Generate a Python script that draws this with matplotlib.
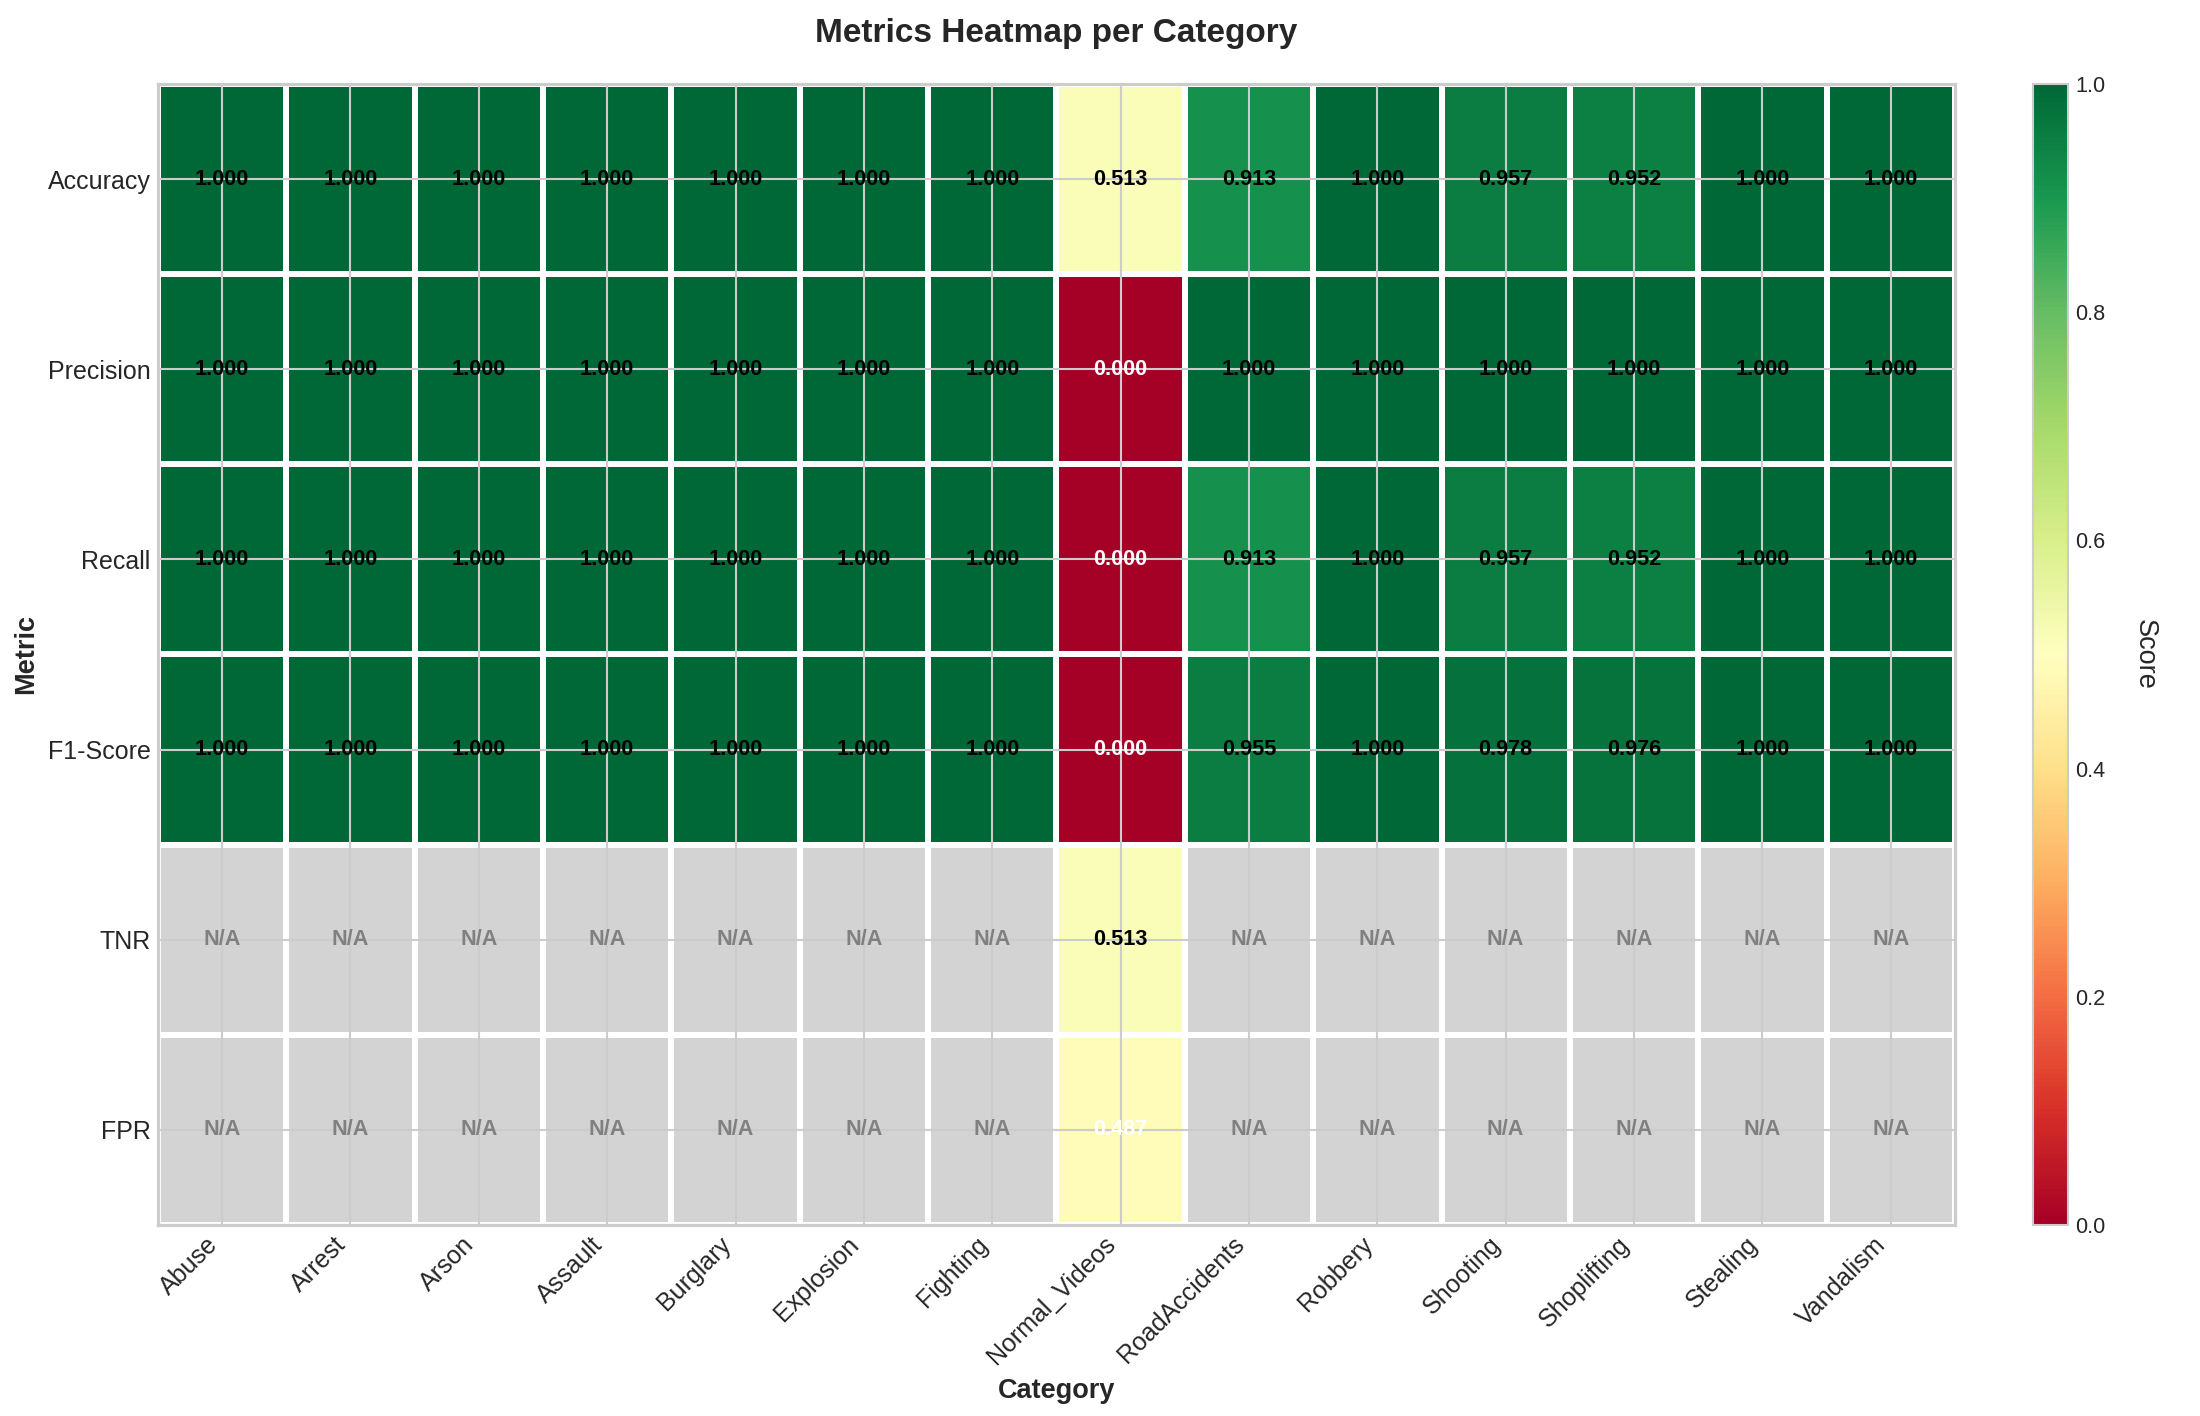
import matplotlib
matplotlib.use('Agg')
import matplotlib.pyplot as plt
import numpy as np

plt.style.use('seaborn-v0_8-whitegrid')
plt.rcParams['font.family'] = ['Liberation Sans', 'DejaVu Sans']

categories = ['Abuse', 'Arrest', 'Arson', 'Assault', 'Burglary', 'Explosion', 'Fighting',
              'Normal_Videos', 'RoadAccidents', 'Robbery', 'Shooting', 'Shoplifting',
              'Stealing', 'Vandalism']
metrics = ['Accuracy', 'Precision', 'Recall', 'F1-Score', 'TNR', 'FPR']

nan = np.nan
accuracy = [1.0, 1.0, 1.0, 1.0, 1.0, 1.0, 1.0, 0.513, 0.913, 1.0, 0.957, 0.952, 1.0, 1.0]
precision = [1.0, 1.0, 1.0, 1.0, 1.0, 1.0, 1.0, 0.0, 1.0, 1.0, 1.0, 1.0, 1.0, 1.0]
recall = [1.0, 1.0, 1.0, 1.0, 1.0, 1.0, 1.0, 0.0, 0.913, 1.0, 0.957, 0.952, 1.0, 1.0]
f1_score = [1.0, 1.0, 1.0, 1.0, 1.0, 1.0, 1.0, 0.0, 0.955, 1.0, 0.978, 0.976, 1.0, 1.0]
tnr = [nan, nan, nan, nan, nan, nan, nan, 0.513, nan, nan, nan, nan, nan, nan]
fpr = [nan, nan, nan, nan, nan, nan, nan, 0.487, nan, nan, nan, nan, nan, nan]

data = np.array([accuracy, precision, recall, f1_score, tnr, fpr])
masked = np.ma.masked_invalid(data)

fig = plt.figure(figsize=(2200 / 150, 1416 / 150), dpi=150)
ax = fig.add_axes([0.0718, 0.1349, 0.8168, 0.8058])
cax = fig.add_axes([0.924, 0.1349, 0.016, 0.8058])

nrows, ncols = data.shape
# celulas N/A em cinza, por baixo
ax.pcolormesh(np.zeros_like(data), cmap=matplotlib.colors.ListedColormap(['lightgrey']),
              edgecolors='white', linewidth=2, zorder=1)
mesh = ax.pcolormesh(masked, cmap='RdYlGn', vmin=0, vmax=1,
                     edgecolors='white', linewidth=2, zorder=2)

ax.set_xlim(0, ncols)
ax.set_ylim(nrows, 0)
ax.set_xticks(np.arange(ncols) + 0.5)
ax.set_yticks(np.arange(nrows) + 0.5)
ax.set_xticklabels(categories, rotation=45, ha='right', fontsize=12)
ax.set_yticklabels(metrics, fontsize=12)
ax.tick_params(length=0)
ax.grid(True, color='0.8', linewidth=1, zorder=3)
ax.set_axisbelow(False)
for s in ax.spines.values():
    s.set_visible(True)
    s.set_edgecolor('0.8')
    s.set_linewidth(1.5)

for i in range(nrows):
    for j in range(ncols):
        v = data[i, j]
        if np.isnan(v):
            ax.text(j + 0.5, i + 0.5, 'N/A', ha='center', va='center',
                    fontsize=10.4, fontweight='bold', color='grey', zorder=4)
        else:
            cor = 'white' if v < 0.5 else 'black'
            ax.text(j + 0.5, i + 0.5, f'{v:.3f}', ha='center', va='center',
                    fontsize=10.4, fontweight='bold', color=cor, zorder=4)

ax.set_title('Metrics Heatmap per Category', fontsize=16, fontweight='bold', pad=20)
ax.set_xlabel('Category', fontsize=13, fontweight='bold')
ax.set_ylabel('Metric', fontsize=13, fontweight='bold')

cb = fig.colorbar(mesh, cax=cax)
cb.set_label('Score', rotation=270, labelpad=25, fontsize=13)
cb.ax.tick_params(labelsize=10.4, length=0)
cb.outline.set_edgecolor('0.8')

fig.savefig('out.png', dpi=150)
